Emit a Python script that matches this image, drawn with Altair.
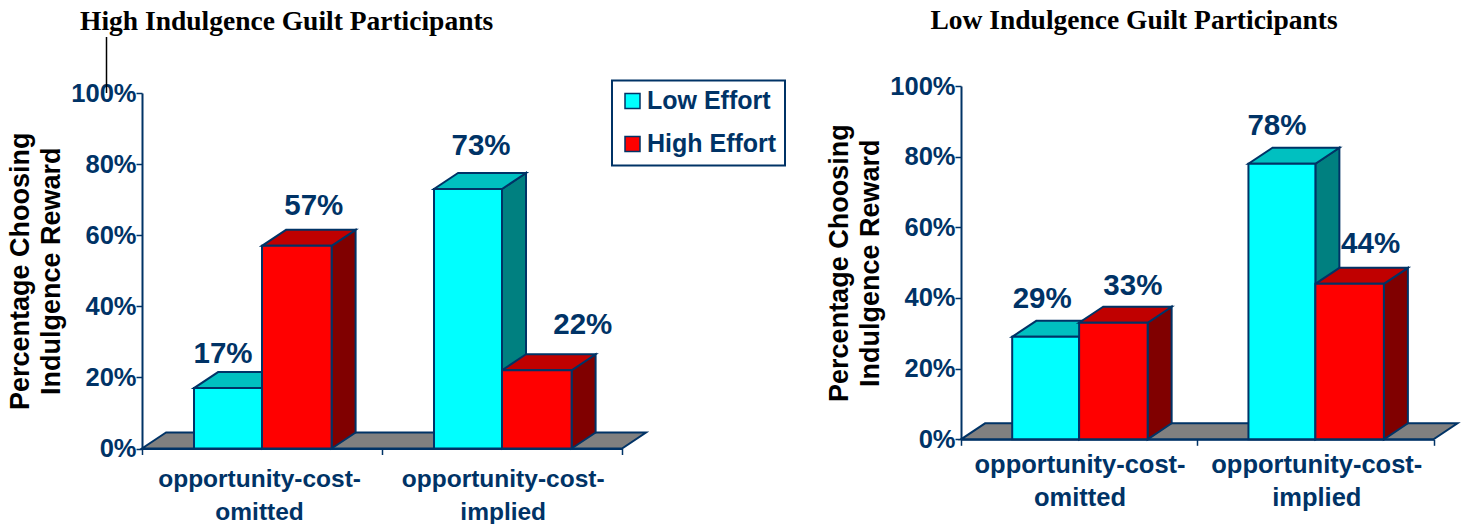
import altair as alt
import pandas as pd

# Chart data
panel_titles = ["High Indulgence Guilt Participants", "Low Indulgence Guilt Participants"]
categories = ["opportunity-cost-\nomitted", "opportunity-cost-\nimplied"]
series = ["Low Effort", "High Effort"]
high_guilt_values = [17, 57, 73, 22]
low_guilt_values = [29, 33, 78, 44]
y_ticks = [0, 20, 40, 60, 80, 100]
y_title = ["Percentage Choosing", "Indulgence Reward"]

# Styling
NAVY = "#003366"
SERIES_FRONT = ["#00ffff", "#ff0000"]
SERIES_TOP = ["#00c0c0", "#c00000"]
SERIES_SIDE = ["#008080", "#800000"]
FLOOR = "#808080"
SANS = "Liberation Sans"
SERIF = "Liberation Serif"

# Bar extents inside one category slot, in category units
SLOT_EDGES = (0.2167, 0.5, 0.79)
DEPTH_X = 24   # px of oblique depth
DEPTH_Y = 16   # px of oblique depth


def panel(values, title, width, height, title_pos, label_nudge, cat_x, cat_size, cat_gap,
          legend=None, stray_rule=False):
    unit_x = width / 2
    pct_per_px = 100 / height
    dx = DEPTH_X / unit_x
    dy = DEPTH_Y * pct_per_px

    bars = []
    for i, v in enumerate(values):
        slot, s = divmod(i, 2)
        x0 = slot + SLOT_EDGES[s]
        x1 = slot + SLOT_EDGES[s + 1]
        bars.append(dict(bar=i, series=series[s], s=s, v=v, x0=x0, x1=x1))
    bars_df = pd.DataFrame(bars)

    side, top = [], []
    for b in bars:
        side += [
            dict(bar=b["bar"], x=b["x1"], y0=0, y1=b["v"], fill=SERIES_SIDE[b["s"]]),
            dict(bar=b["bar"], x=b["x1"] + dx, y0=dy, y1=b["v"] + dy, fill=SERIES_SIDE[b["s"]]),
        ]
        top += [
            dict(bar=b["bar"], y=b["v"], x0=b["x0"], x1=b["x1"], fill=SERIES_TOP[b["s"]]),
            dict(bar=b["bar"], y=b["v"] + dy, x0=b["x0"] + dx, x1=b["x1"] + dx, fill=SERIES_TOP[b["s"]]),
        ]
    side_df = pd.DataFrame(side)
    top_df = pd.DataFrame(top)
    floor_df = pd.DataFrame([
        dict(y=0, x0=0, x1=2),
        dict(y=dy, x0=dx, x1=2 + dx),
    ])

    xs = alt.Scale(domain=[0, 2], nice=False, zero=False)
    ys = alt.Scale(domain=[0, 100], nice=False, zero=True)
    x_axis = alt.Axis(
        values=[0, 1, 2], labels=False, title=None, grid=False, domainColor=NAVY,
        domainWidth=2, tickColor=NAVY, tickWidth=1.5, tickSize=6,
    )
    y_axis = alt.Axis(
        values=y_ticks, labelExpr="datum.value + '%'", title=y_title, grid=False,
        domainColor=NAVY, domainWidth=2, tickColor=NAVY, tickWidth=1.5, tickSize=6,
        labelColor=NAVY, labelFont=SANS, labelFontSize=25.5, labelFontWeight="bold",
        labelPadding=0, titleColor="black", titleFont=SANS, titleFontSize=27,
        titleFontWeight="bold", titleLineHeight=31, titlePadding=5,
    )

    floor = alt.Chart(floor_df).mark_area(
        orient="horizontal", fill=FLOOR, stroke=NAVY, strokeWidth=2
    ).encode(
        y=alt.Y("y:Q", scale=ys, axis=y_axis),
        x=alt.X("x0:Q", scale=xs, axis=x_axis),
        x2="x1:Q",
    )
    sides = alt.Chart(side_df).mark_area(stroke=NAVY, strokeWidth=2).encode(
        x=alt.X("x:Q", scale=xs),
        y=alt.Y("y0:Q", scale=ys),
        y2="y1:Q",
        detail="bar:N",
        fill=alt.Fill("fill:N", scale=None),
    )
    tops = alt.Chart(top_df).mark_area(orient="horizontal", stroke=NAVY, strokeWidth=2).encode(
        y=alt.Y("y:Q", scale=ys),
        x=alt.X("x0:Q", scale=xs),
        x2="x1:Q",
        detail="bar:N",
        fill=alt.Fill("fill:N", scale=None),
    )
    fronts = alt.Chart(bars_df).mark_bar(stroke=NAVY, strokeWidth=2).encode(
        x=alt.X("x0:Q", scale=xs),
        x2="x1:Q",
        y=alt.Y("v:Q", scale=ys),
        y2=alt.Y2(datum=0),
        fill=alt.Fill(
            "series:N",
            scale=alt.Scale(domain=series, range=SERIES_FRONT),
            legend=legend,
        ),
    )

    labels_df = bars_df.copy()
    labels_df["lx"] = [(b["x0"] + b["x1"]) / 2 + n[0] / unit_x for b, n in zip(bars, label_nudge)]
    labels_df["ly"] = [b["v"] + n[1] * pct_per_px for b, n in zip(bars, label_nudge)]
    labels_df["text"] = [f"{b['v']}%" for b in bars]
    value_labels = alt.Chart(labels_df).mark_text(
        font=SANS, fontSize=29.5, fontWeight="bold", color=NAVY, baseline="middle"
    ).encode(x=alt.X("lx:Q", scale=xs), y=alt.Y("ly:Q", scale=ys), text="text:N")

    cat_df = pd.DataFrame(dict(x=cat_x, text=categories))
    cat_labels = alt.Chart(cat_df).mark_text(
        font=SANS, fontSize=cat_size, fontWeight="bold", color=NAVY, baseline="top",
        lineBreak="\n", lineHeight=33, y=height + cat_gap,
    ).encode(x=alt.X("x:Q", scale=xs), text="text:N")

    head = alt.Chart(pd.DataFrame(dict(text=[title]))).mark_text(
        font=SERIF, fontSize=27.5, fontWeight="bold", color="black", align="left",
        baseline="middle", x=title_pos[0], y=title_pos[1],
    ).encode(text="text:N")

    layers = [floor, sides, tops, fronts, value_labels, cat_labels, head]
    if stray_rule:
        layers.append(
            alt.Chart(pd.DataFrame(dict(a=[0]))).mark_rule(color="black", strokeWidth=1.5).encode(
                x=alt.value(-35.5), y=alt.value(-56), y2=alt.value(0)
            )
        )
    return alt.layer(*layers).resolve_scale(fill="independent").properties(width=width, height=height)


def spacer():
    # Invisible one-pixel row that lets each column start at its title's top edge
    return alt.Chart(pd.DataFrame(dict(a=[0]))).mark_point(opacity=0).encode(
        x=alt.value(0), y=alt.value(0)
    ).properties(width=1, height=1)


legend = alt.Legend(
    orient="none", legendX=470, legendY=-12.5, title=None, strokeColor=NAVY, fillColor="white",
    padding=8, symbolType="square", symbolSize=225, symbolStrokeColor=NAVY,
    symbolStrokeWidth=1.5, labelFont=SANS, labelFontSize=25, labelFontWeight="bold",
    labelColor=NAVY, labelOffset=2, rowPadding=17, labelLimit=200,
)

left = panel(
    high_guilt_values, panel_titles[0], 480, 355.5, (-62, -71.5),
    [(-5, 33.6), (17, 40), (13, 43), (46, 45)], [0.49, 1.505], 24.5, 19,
    legend=legend, stray_rule=True,
)
right = panel(
    low_guilt_values, panel_titles[1], 472.5, 353.3, (-30.5, -64.7),
    [(-3.5, 38), (19.5, 37), (-5, 38), (21, 40)], [0.504, 1.506], 25.5, 14,
)

chart = alt.hconcat(
    alt.vconcat(spacer(), left, spacing=0),
    alt.vconcat(spacer(), right, spacing=0),
    spacing=39,
).properties(
    padding=dict(left=6, top=1, right=0, bottom=0), background="white"
).configure_view(stroke=None).configure_legend(strokeWidth=2)

chart.save("out.html", embed_options={"renderer": "svg", "actions": False})
